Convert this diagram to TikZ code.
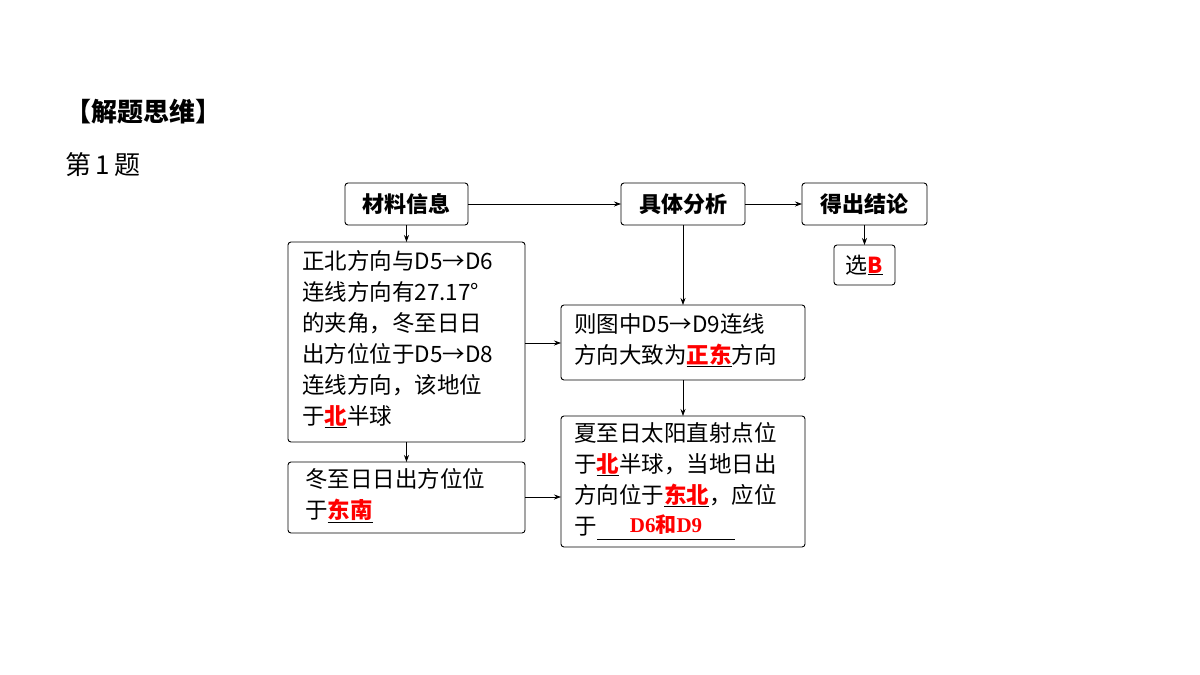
\documentclass[tikz,border=0pt]{standalone}
\usepackage{fontspec}
\setmainfont{Liberation Serif}
\newfontfamily\cjk{Noto Sans CJK SC}
\usetikzlibrary{arrows.meta}
\newcommand{\rw}[1]{\underline{\textcolor{red}{\textbf{#1}}}}
\begin{document}
\begin{tikzpicture}[x=1pt,y=-1pt,
  bx/.style={draw,rounded corners=3pt,line width=0.9pt,inner sep=0pt},
  ar/.style={-{Stealth[length=7pt,width=5pt]},line width=0.7pt},
  tx/.style={anchor=north west,inner sep=0pt,align=left,font=\cjk\fontsize{22.5}{31}\selectfont}]
\useasboundingbox (0,0) rectangle (1200,675);
\node[anchor=west,font=\cjk\bfseries\fontsize{26}{30}\selectfont] (t1) at (62,112) {【解题思维】};
\node[anchor=west,font=\cjk\fontsize{26}{30}\selectfont] (t2) at (62,165) {第\,1\,题};
% boxes
\draw[bx] (345,183) rectangle (468,225);
\node[font=\cjk\bfseries\fontsize{22}{25}\selectfont] (an) at (406.5,204) {材料信息};
\draw[bx] (621,183) rectangle (745,225);
\node[font=\cjk\bfseries\fontsize{22}{25}\selectfont] (bn) at (683,204) {具体分析};
\draw[bx] (802,183) rectangle (927,225);
\node[font=\cjk\bfseries\fontsize{22}{25}\selectfont] (cn) at (864.5,204) {得出结论};
\draw[bx] (834,245) rectangle (895,285);
\node[font=\cjk\fontsize{22}{25}\selectfont] (dn) at (864.5,265) {选\rw{B}};
\draw[bx] (288,242) rectangle (525,442);
\node[tx] (en) at (302,250) {正北方向与D5→D6\\连线方向有27.17°\\的夹角，冬至日日\\出方位位于D5→D8\\连线方向，该地位\\于\rw{北}半球};
\draw[bx] (288,462) rectangle (525,533);
\node[tx] (fn) at (305,468) {冬至日日出方位位\\于\rw{东南}};
\draw[bx] (561,305) rectangle (805,380);
\node[tx] (gn) at (574,313) {则图中D5→D9连线\\方向大致为\rw{正东}方向};
\draw[bx] (561,416) rectangle (805,547);
\node[tx] (hn) at (574,422) {夏至日太阳直射点位\\于\rw{北}半球，当地日出\\方向位于\rw{东北}，应位\\于};
\coordinate (u1) at (597,539); \coordinate (u2) at (735,539);
\draw[line width=0.6pt] (u1) -- (u2);
\node[font=\bfseries\fontsize{21}{25}\selectfont,text=red,anchor=base] (hb) at (666,532) {D6{\cjk 和}D9};
% arrows
\draw[ar] (468,204) -- (621,204);
\draw[ar] (745,204) -- (802,204);
\draw[ar] (864.5,225) -- (864.5,245);
\draw[ar] (406.5,225) -- (406.5,242);
\draw[ar] (683,225) -- (683,305);
\draw[ar] (683,380) -- (683,416);
\draw[ar] (525,343) -- (561,343);
\draw[ar] (406.5,442) -- (406.5,462);
\draw[ar] (525,497) -- (561,497);
\end{tikzpicture}
\end{document}
